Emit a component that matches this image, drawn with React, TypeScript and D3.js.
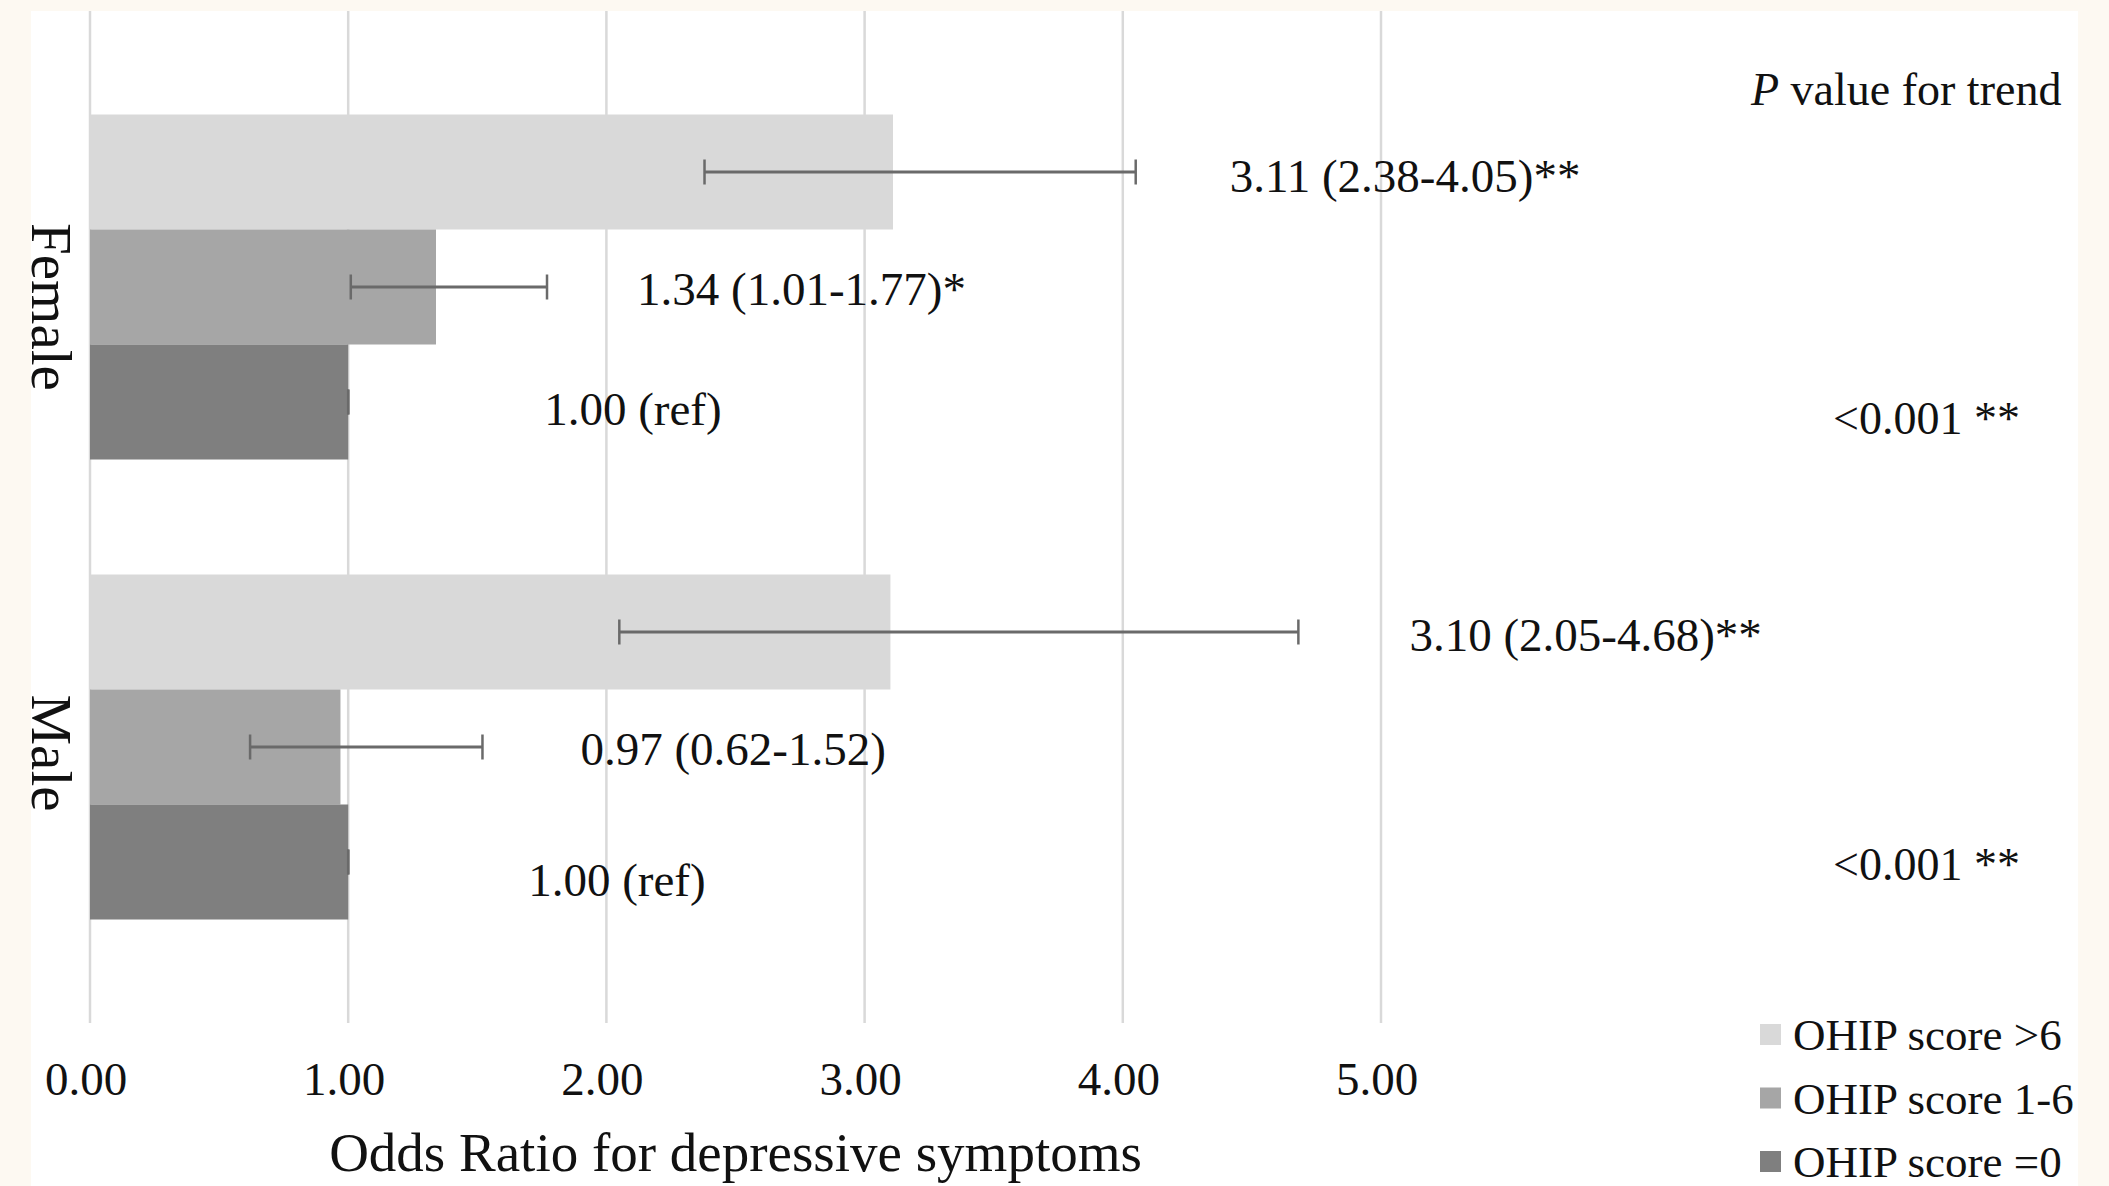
import React from 'react';
import * as d3 from 'd3';

// chart values
const categories = ['Female', 'Male'];
const seriesNames = ['OHIP score >6', 'OHIP score 1-6', 'OHIP score =0'];
const femaleOR = [3.11, 1.34, 1.0];
const femaleLo = [2.38, 1.01, 1.0];
const femaleHi = [4.05, 1.77, 1.0];
const femaleStars = ['**', '*', ''];
const maleOR = [3.1, 0.97, 1.0];
const maleLo = [2.05, 0.62, 1.0];
const maleHi = [4.68, 1.52, 1.0];
const maleStars = ['**', '', ''];
const pTrend = ['<0.001 **', '<0.001 **'];
const xTicks = [0, 1, 2, 3, 4, 5];
const xTitle = 'Odds Ratio for depressive symptoms';
const pHeader = 'value for trend';

const W = 2109;
const H = 1186;
const FONT = '"Liberation Serif", "Times New Roman", serif';
const colors = ['#d9d9d9', '#a6a6a6', '#7f7f7f'];
const errColor = '#6a6a6a';

// hand-placed label nudges (px) like in the original figure
const labelDx = [[94, 90, 196], [111, 98, 180]];
const labelDy = [[20, 18, 23], [19, 18, 34]];
const catDy = [20, 6];
const pDy = [32, 18];

export default function App() {
  const x = d3.scaleLinear().domain([0, 5]).range([90, 1381]);
  const yOuter = d3.scaleBand<string>()
    .domain(categories)
    .range([57, 977])
    .paddingInner(0.25)
    .paddingOuter(0.125);
  const yInner = d3.scaleBand<string>()
    .domain(seriesNames)
    .range([0, yOuter.bandwidth()]);

  const groups = [
    { name: categories[0], or: femaleOR, lo: femaleLo, hi: femaleHi, stars: femaleStars },
    { name: categories[1], or: maleOR, lo: maleLo, hi: maleHi, stars: maleStars },
  ];

  const gridTop = 11;
  const gridBottom = 1023;
  const capH = 25;

  return (
    <div style={{ position: 'absolute', left: 0, top: 0 }}>
      <svg width={W} height={H} style={{ display: 'block', fontFamily: FONT }}>
        <rect x={0} y={0} width={W} height={H} fill="#fdf9f2" />
        <rect x={31} y={11} width={2078 - 31} height={H - 11} fill="#ffffff" />

        {/* grid */}
        {xTicks.map(t => (
          <line key={t} x1={x(t)} x2={x(t)} y1={gridTop} y2={gridBottom} stroke="#d9d9d9" strokeWidth={2.5} />
        ))}

        {/* bars + error bars */}
        {groups.map(g => {
          const y0 = yOuter(g.name) || 0;
          return (
            <g key={g.name}>
              {seriesNames.map((s, si) => {
                const by = y0 + (yInner(s) || 0);
                const bh = yInner.bandwidth();
                const cy = by + bh / 2;
                return (
                  <g key={s}>
                    <rect x={x(0)} y={by} width={x(g.or[si]) - x(0)} height={bh} fill={colors[si]} />
                    <line x1={x(g.lo[si])} x2={x(g.hi[si])} y1={cy} y2={cy} stroke={errColor} strokeWidth={3} />
                    <line x1={x(g.lo[si])} x2={x(g.lo[si])} y1={cy - capH / 2} y2={cy + capH / 2} stroke={errColor} strokeWidth={2.5} />
                    <line x1={x(g.hi[si])} x2={x(g.hi[si])} y1={cy - capH / 2} y2={cy + capH / 2} stroke={errColor} strokeWidth={2.5} />
                  </g>
                );
              })}
            </g>
          );
        })}

        {/* data labels */}
        {groups.map((g, gi) =>
          seriesNames.map((s, si) => {
            const cy = (yOuter(g.name) || 0) + (yInner(s) || 0) + yInner.bandwidth() / 2;
            const txt = si === 2
              ? `${g.or[si].toFixed(2)} (ref)`
              : `${g.or[si].toFixed(2)} (${g.lo[si].toFixed(2)}-${g.hi[si].toFixed(2)})${g.stars[si]}`;
            return (
              <text key={g.name + s} x={x(g.hi[si]) + labelDx[gi][si]} y={cy + labelDy[gi][si]}
                fontSize={47} fill="#111">{txt}</text>
            );
          })
        )}

        {/* category labels */}
        {groups.map((g, gi) => (
          <text key={g.name} textAnchor="middle" fontSize={57} fill="#111"
            transform={`translate(32,${(yOuter(g.name) || 0) + yOuter.bandwidth() / 2 + catDy[gi]}) rotate(90)`}>
            {g.name}
          </text>
        ))}

        {/* x ticks */}
        {xTicks.map(t => (
          <text key={t} x={x(t) - 4} y={1095} textAnchor="middle" fontSize={47} fill="#111">
            {d3.format('.2f')(t)}
          </text>
        ))}
        <text x={(x(0) + x(5)) / 2} y={1171} textAnchor="middle" fontSize={55} fill="#111">{xTitle}</text>

        {/* P trend */}
        <text x={1751} y={105} fontSize={46} fill="#111">
          <tspan fontStyle="italic">P</tspan> {pHeader}
        </text>
        {groups.map((g, gi) => (
          <text key={g.name} x={1833}
            y={(yOuter(g.name) || 0) + (yInner(seriesNames[2]) || 0) + yInner.bandwidth() / 2 + pDy[gi]}
            fontSize={46} fill="#111">{pTrend[gi]}</text>
        ))}

        {/* legend */}
        {seriesNames.map((s, i) => (
          <g key={s} transform={`translate(1760,${1050 + i * 63.5})`}>
            <rect x={0} y={-26} width={21} height={21} fill={colors[i]} />
            <text x={33} y={0} fontSize={45} fill="#111">{s}</text>
          </g>
        ))}
      </svg>
    </div>
  );
}
